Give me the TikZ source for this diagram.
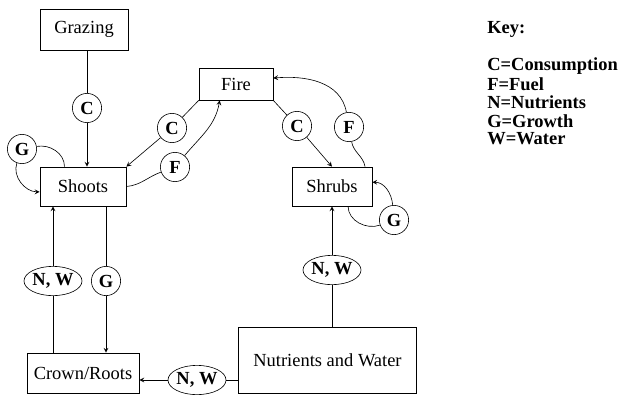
\documentclass[tikz,border=0pt]{standalone}
\usepackage{fontspec}
\setmainfont{Liberation Serif}
\usetikzlibrary{shapes.geometric}
\begin{document}
\begin{tikzpicture}[
    x=0.65pt, y=0.65pt,
    box/.style={rectangle, draw, inner sep=0pt, font=\fontsize{12}{14}\selectfont},
    lab/.style={circle, draw, inner sep=0pt, minimum size=19pt, font=\fontsize{12}{14}\selectfont\bfseries},
    labe/.style={ellipse, draw, inner sep=0pt, minimum width=36pt, minimum height=19pt, font=\fontsize{12}{14}\selectfont\bfseries},
    flow/.style={->, >=stealth},
    keytxt/.style={anchor=west, inner sep=0pt, font=\fontsize{12}{14}\selectfont\bfseries},
  ]
    \useasboundingbox (0,0) rectangle (619,395);

    % Boxes
    \node[box, minimum width=57pt, minimum height=26.7pt] (grazing) at (84,365.5) {Grazing};
    \node[box, minimum width=56pt, minimum height=25.4pt] (shoots) at (83,208.5) {Shoots};
    \node[box, minimum width=48pt, minimum height=20.8pt] (fire) at (236,311) {Fire};
    \node[box, minimum width=52pt, minimum height=25.4pt] (shrubs) at (332,208.5) {Shrubs};
    \node[box, minimum width=73pt, minimum height=26pt] (crown) at (83,22) {Crown/Roots};
    \node[box, minimum width=116pt, minimum height=43pt] (nutri) at (327.5,35) {Nutrients and Water};

    % Labels
    \node[lab] (cgraz) at (87,287) {C};
    \node[lab] (gshoot) at (22,246) {G};
    \node[lab] (cshoot) at (172,267) {C};
    \node[lab] (fshoot) at (175,228) {F};
    \node[lab] (cshrub) at (297,269) {C};
    \node[lab] (fshrub) at (349,268) {F};
    \node[lab] (gshrub) at (394,175) {G};
    \node[labe] (nwroot) at (53,114) {N, W};
    \node[lab] (groot) at (106,114) {G};
    \node[labe] (nwshrub) at (332,125) {N, W};
    \node[labe] (nwnutri) at (197,15) {N, W};

    % Grazing
    \draw (grazing.south -| cgraz) -- (cgraz);
    \draw[flow] (cgraz) -- (cgraz |- shoots.north);

    % Shoots and fire
    \draw (fire.south west) -- (cshoot);
    \draw[flow] (cshoot) -- (shoots.north east);
    \draw (shoots.east) to[out=5, in=200] (fshoot);
    \draw[flow] (fshoot) to[out=50, in=-100] (fire.-135);
    \draw (shoots.133) to[out=90, in=10] (gshoot);
    \draw[flow] (gshoot) to[out=-110, in=180] (shoots.187);

    % Shrubs and fire
    \draw (fire.south east) -- (cshrub);
    \draw[flow] (cshrub) -- (shrubs.north);
    \draw (shrubs.31) to[out=100, in=-80] (fshrub);
    \draw[flow] (fshrub) to[out=100, in=5] (fire.9);
    \draw (shrubs.-51) to[out=-90, in=200] (gshrub);
    \draw[flow] (gshrub) to[out=95, in=0] (shrubs.6);

    % Roots
    \draw (crown.north -| nwroot) -- (nwroot);
    \draw[flow] (nwroot) -- (shoots.south -| nwroot);
    \draw (shoots.south -| groot) -- (groot);
    \draw[flow] (groot) -- (crown.north -| groot);

    % Nutrients and water
    \draw (nutri.north -| nwshrub) -- (nwshrub);
    \draw[flow] (nwshrub) -- (shrubs.south -| nwshrub);
    \draw (nutri.west |- nwnutri) -- (nwnutri);
    \draw[flow] (nwnutri) -- (crown.east |- nwnutri);

    % Key
    \node[keytxt] (key) at (487,366) {Key:};
    \node[keytxt] (kc) at (487,329) {C=Consumption};
    \node[keytxt] (kf) at (487,311) {F=Fuel};
    \node[keytxt] (kn) at (487,293) {N=Nutrients};
    \node[keytxt] (kg) at (487,274) {G=Growth};
    \node[keytxt] (kw) at (487,256) {W=Water};
  \end{tikzpicture}
\end{document}
